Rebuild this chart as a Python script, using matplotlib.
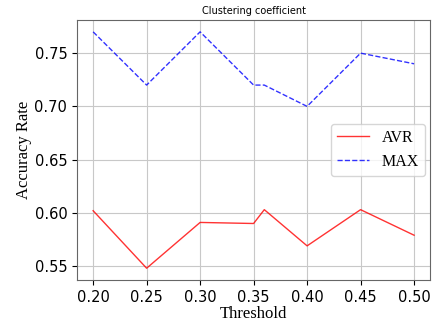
import matplotlib
matplotlib.use("Agg")
import matplotlib.pyplot as plt

# thresholds and accuracy values
thresholds = [0.20, 0.25, 0.30, 0.35, 0.36, 0.40, 0.45, 0.50]
avr = [0.602, 0.548, 0.591, 0.590, 0.603, 0.569, 0.603, 0.579]
mx = [0.770, 0.720, 0.770, 0.720, 0.720, 0.700, 0.750, 0.740]
xticks = [0.20, 0.25, 0.30, 0.35, 0.40, 0.45, 0.50]
yticks = [0.55, 0.60, 0.65, 0.70, 0.75]


def main():
    fig = plt.figure(figsize=(4.38, 3.23), dpi=100)
    ax = fig.add_axes([0.176, 0.133, 0.806, 0.805])

    ax.plot(thresholds, avr, 'r-', lw=1, alpha=0.8, label='AVR')
    ax.plot(thresholds, mx, 'b--', lw=1, alpha=0.8, label='MAX')

    ax.set_xticks(xticks)
    ax.set_yticks(yticks)
    ax.tick_params(labelsize=10.5)
    ax.grid(True, color='#c8c8c8', lw=0.8)
    ax.set_axisbelow(True)
    for s in ax.spines.values():
        s.set_color('#666666')

    serif = {'family': 'Liberation Serif', 'size': 12}
    ax.set_xlabel('Threshold', fontdict=serif, labelpad=1)
    ax.set_ylabel('Accuracy Rate', fontdict=serif, labelpad=2)
    ax.set_title('Clustering coefficient', fontsize=7, pad=4)

    ax.legend(loc='center right', borderaxespad=0.3,
              prop={'family': 'Liberation Serif', 'size': 11.5})

    fig.savefig('out.png', dpi=100)


if __name__ == "__main__":
    main()
